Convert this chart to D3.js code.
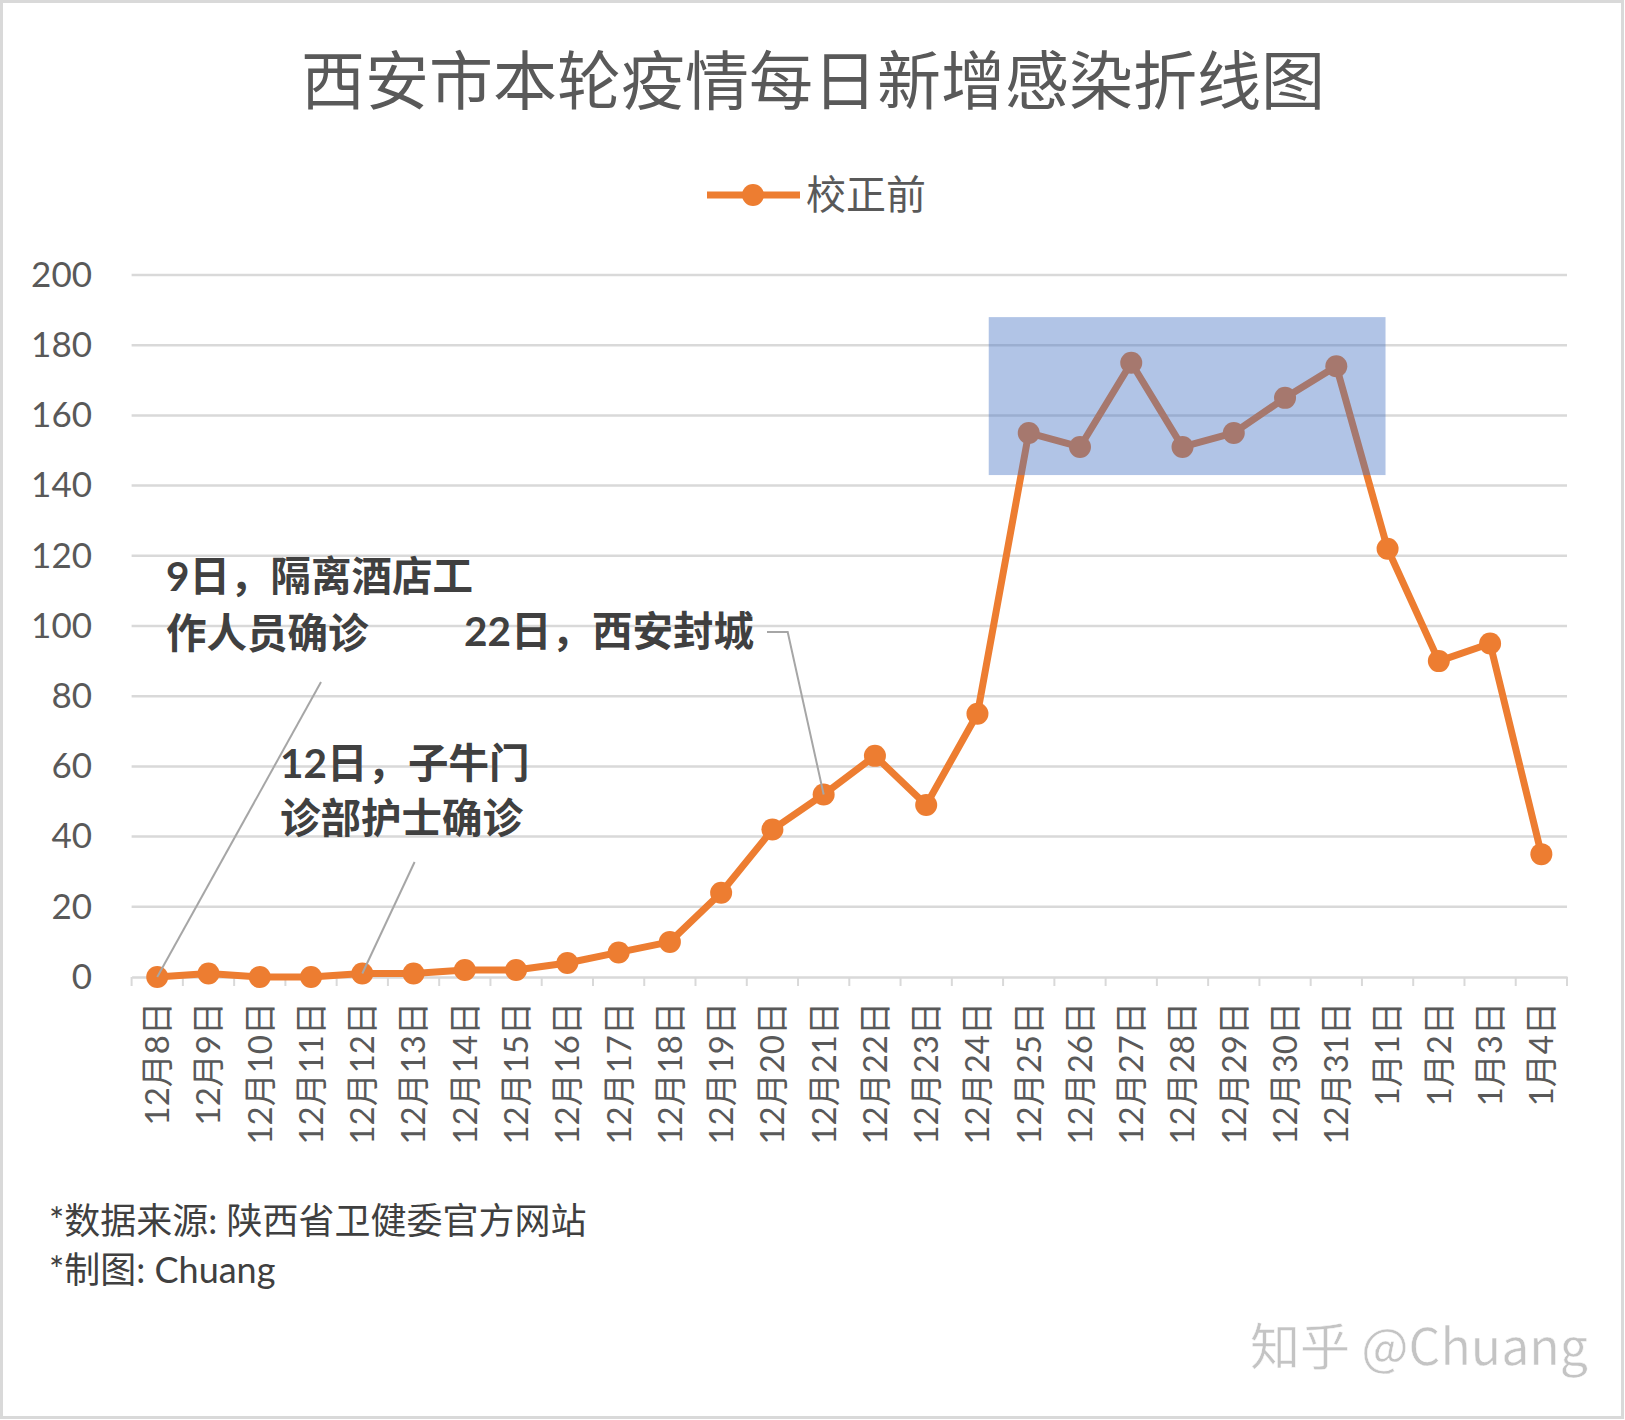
<!DOCTYPE html>
<html>
<head>
<meta charset="utf-8">
<script src="https://cdn.jsdelivr.net/npm/d3@7"></script>
<style>
html,body{margin:0;padding:0;background:#fff;}
svg{display:block;}
</style>
</head>
<body>
<svg id="chart" width="1625" height="1420"></svg>
<script>
const categories = ["12月8日","12月9日","12月10日","12月11日","12月12日","12月13日","12月14日","12月15日","12月16日","12月17日","12月18日","12月19日","12月20日","12月21日","12月22日","12月23日","12月24日","12月25日","12月26日","12月27日","12月28日","12月29日","12月30日","12月31日","1月1日","1月2日","1月3日","1月4日"];
const values = [0,1,0,0,1,1,2,2,4,7,10,24,42,52,63,49,75,155,151,175,151,155,165,174,122,90,95,35];
const yTicks = [0,20,40,60,80,100,120,140,160,180,200];
const seriesName = "校正前";
const titleText = "西安市本轮疫情每日新增感染折线图";
const highlightCats = ["12月24日","1月1日"];
const highlightVals = [143,188];
const annotations = [
  {lines:["9日，隔离酒店工","作人员确诊"], target:"12月8日"},
  {lines:["12日，子牛门","诊部护士确诊"], target:"12月12日"},
  {lines:["22日，西安封城"], target:"12月21日"}
];
const footnotes = ["*数据来源: 陕西省卫健委官方网站","*制图: Chuang"];
const watermark = "知乎 @Chuang";

const svg = d3.select("#chart");
const W = 1625, H = 1420;
const orange = "#ED7D31";
const numFont = "Lato, 'Noto Sans CJK SC', sans-serif";
const cjkFont = "'Noto Sans CJK SC', sans-serif";

// border
svg.append("rect").attr("x",1.5).attr("y",1.5).attr("width",W-4).attr("height",H-4)
  .attr("fill","#fff").attr("stroke","#d9d9d9").attr("stroke-width",3);

const x = d3.scaleBand().domain(categories).range([131.6,1567]).padding(0);
const y = d3.scaleLinear().domain([0,200]).range([977,275]);
const cx = c => x(c) + x.bandwidth()/2;

// title
svg.append("text").attr("x",813).attr("y",104).attr("text-anchor","middle")
  .attr("font-family",cjkFont).attr("font-size",64).attr("fill","#595959")
  .text(titleText);

// legend
const lg = svg.append("g");
lg.append("line").attr("x1",707).attr("x2",800).attr("y1",195).attr("y2",195)
  .attr("stroke",orange).attr("stroke-width",7);
lg.append("circle").attr("cx",753).attr("cy",195).attr("r",11).attr("fill",orange);
lg.append("text").attr("x",806).attr("y",195).attr("dy","0.35em")
  .attr("font-family",cjkFont).attr("font-size",40).attr("fill","#595959").text(seriesName);

// gridlines
svg.append("g").selectAll("line").data(yTicks.filter(d=>d>0)).join("line")
  .attr("x1",131.6).attr("x2",1567).attr("y1",d=>y(d)).attr("y2",d=>y(d))
  .attr("stroke","#d9d9d9").attr("stroke-width",2.5);

// y labels
const yAxis = d3.axisLeft(y).tickValues(yTicks).tickSize(0).tickPadding(0);
const yg = svg.append("g").attr("transform","translate(92,0)").call(yAxis);
yg.select(".domain").remove();
yg.selectAll("text").attr("font-family",numFont).attr("font-size",35).attr("fill","#595959");

// x axis
const xAxis = d3.axisBottom(x).tickSize(0).tickPadding(0);
const xg = svg.append("g").attr("transform","translate(0,977)").call(xAxis);
xg.select(".domain").attr("stroke","#d9d9d9").attr("stroke-width",2.5);
xg.selectAll("text").attr("font-family",numFont).attr("font-size",33).attr("fill","#595959")
  .attr("text-anchor","end").attr("transform","rotate(-90)")
  .attr("x",-25).attr("y",0).attr("dy","0.36em");
// ticks at band boundaries
const bounds = categories.map(c=>x(c)).concat([x.range()[1]]);
svg.append("g").selectAll("line").data(bounds).join("line")
  .attr("x1",d=>d).attr("x2",d=>d).attr("y1",977).attr("y2",986)
  .attr("stroke","#d9d9d9").attr("stroke-width",2);

// series
const pts = categories.map((c,i)=>({c, v:values[i]}));
const line = d3.line().x(d=>cx(d.c)).y(d=>y(d.v));
svg.append("path").datum(pts).attr("d",line).attr("fill","none")
  .attr("stroke",orange).attr("stroke-width",7).attr("stroke-linejoin","round");
svg.append("g").selectAll("circle").data(pts).join("circle")
  .attr("cx",d=>cx(d.c)).attr("cy",d=>y(d.v)).attr("r",11).attr("fill",orange);

// highlight rect
const hx0 = cx(highlightCats[0]) + x.bandwidth()*0.22;
const hx1 = cx(highlightCats[1]) - x.bandwidth()*0.04;
svg.append("rect").attr("x",hx0).attr("y",y(highlightVals[1]))
  .attr("width",hx1-hx0).attr("height",y(highlightVals[0])-y(highlightVals[1]))
  .attr("fill","#4472C4").attr("fill-opacity",0.42);

// annotations
const annFont = {family:numFont, size:40.5, color:"#404040"};
const annPos = [
  {x:166, y:[577,634], leader:[[321,682]]},
  {x:280, y:[764,819], leader:[[414.6,862]]},
  {x:464, y:[632], leader:[[767,632],[787.7,632]]}
];
annotations.forEach((a,i)=>{
  const p = annPos[i];
  const tp = pts.find(d=>d.c===a.target);
  const end = [cx(tp.c), y(tp.v)];
  svg.append("path").attr("d", d3.line()(p.leader.concat([end])))
    .attr("fill","none").attr("stroke","#a6a6a6").attr("stroke-width",2);
});
annotations.forEach((a,i)=>{
  const p = annPos[i];
  a.lines.forEach((t,j)=>{
    svg.append("text").attr("x",p.x).attr("y",p.y[j]).attr("dy","0.35em")
      .attr("font-family",annFont.family).attr("font-size",annFont.size)
      .attr("font-weight","bold").attr("fill",annFont.color).text(t);
  });
});

// footnotes
footnotes.forEach((t,i)=>{
  svg.append("text").attr("x",49).attr("y",1221+i*49).attr("dy","0.35em")
    .attr("font-family",numFont).attr("font-size",36).attr("fill","#404040").text(t);
});

// watermark
svg.append("text").attr("x",1588).attr("y",1347).attr("dy","0.35em").attr("text-anchor","end")
  .attr("font-family",cjkFont).attr("font-size",50).attr("fill","#c4c4c4")
  .attr("stroke","#ffffff").attr("stroke-width",0.5).text(watermark);
</script>
</body>
</html>
